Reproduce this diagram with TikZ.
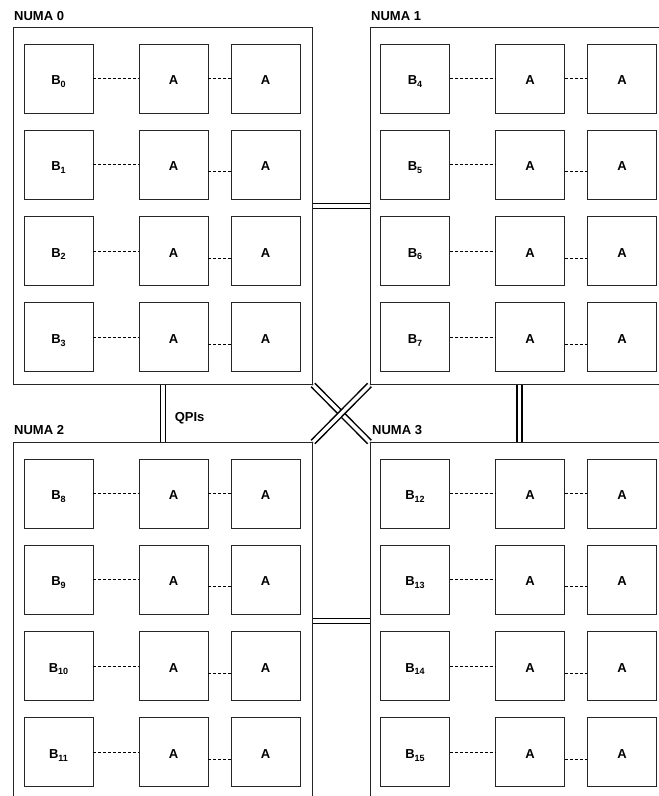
\documentclass[tikz,border=0pt]{standalone}
\usepackage{fontspec}
\setmainfont{Liberation Sans}
\usepackage{tikz}
\usetikzlibrary{positioning}

\newcommand{\coreid}[1]{B\smash{\raisebox{-2.8pt}{\fontsize{9}{10}\selectfont #1}}}

\begin{document}
\begin{tikzpicture}[
      x=1pt, y=-1pt,
      font=\bfseries\fontsize{13}{15}\selectfont,
      numa/.style={rectangle, draw=black!85, line width=1pt,
                   minimum width=299pt, minimum height=357pt,
                   anchor=north west, inner sep=0pt},
      core/.style={rectangle, draw=black!85, line width=0.9pt,
                   minimum size=69pt, inner sep=0pt,
                   text height=12pt, text depth=0pt},
      link/.style={dashed, dash pattern=on 3pt off 2pt, draw=black, line width=0.7pt},
      qpi/.style={double, double distance=3.5pt, line width=1.5pt, draw=black},
      numalabel/.style={anchor=base west, inner sep=0pt},
      ]
    \useasboundingbox (0,0) rectangle (659,796);

    % sockets
    \node[numa] (n0) at (13,27) {};
    \node[numa] (n1) at (369.5,27) {};
    \node[numa] (n2) at (13,442) {};
    \node[numa] (n3) at (369.5,442) {};
    \node[numalabel] (l0) at (14,20) {NUMA 0};
    \node[numalabel] (l1) at (371,20) {NUMA 1};
    \node[numalabel] (l2) at (14,434) {NUMA 2};
    \node[numalabel] (l3) at (372,434) {NUMA 3};

    % cores: one B and two A per row
    \foreach \s/\ox/\oy in {0/13/27, 1/369.5/27, 2/13/442, 3/369.5/442} {
      \foreach \r in {0,1,2,3} {
        \pgfmathtruncatemacro{\idx}{4*\s+\r}
        \pgfmathsetmacro{\cy}{\oy+51.5+86.3*\r}
        \node[core] (b\idx) at (\ox+45.5,\cy) {\coreid{\idx}};
        \node[core] (a\idx) at (\ox+160.5,\cy) {A};
        \node[core] (c\idx) at (\ox+252.5,\cy) {A};
        \draw[link] (b\idx.east) -- (a\idx.west);
        \ifnum\r=0
          \draw[link] (a\idx.east) -- (c\idx.west);
        \else
          \draw[link] ([yshift=-7pt]a\idx.east) -- ([yshift=-7pt]c\idx.west);
        \fi
      }
    }

    % interconnect
    \draw[qpi] (n0.east) -- (n1.west);
    \draw[qpi] (n2.east) -- (n3.west);
    \draw[qpi] (n0.south) -- node[right=11pt, yshift=-5pt, inner sep=0pt] (qpis) {QPIs} (n2.north);
    \draw[qpi] (n1.south) -- (n3.north);
    \draw[qpi] (n0.south east) -- (n3.north west);
    \draw[qpi] (n1.south west) -- (n2.north east);
  \end{tikzpicture}
\end{document}
